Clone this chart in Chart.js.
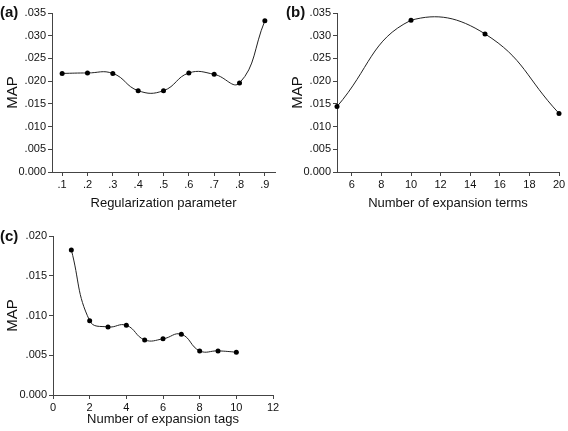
<!DOCTYPE html>
<html>
<head>
<meta charset="utf-8">
<script src="https://cdn.jsdelivr.net/npm/chart.js"></script>
<style>
  body { margin: 0; background: #fff; width: 568px; height: 431px; position: relative; overflow: hidden; font-family: "Liberation Sans", Arial, sans-serif; }
  canvas { position: absolute; }
  .tag { position: absolute; font-weight: bold; font-size: 15px; color: #111; line-height: 15px; }
</style>
</head>
<body>
<canvas id="chartA" width="285" height="215" style="left:0;top:0"></canvas>
<canvas id="chartB" width="283" height="215" style="left:285px;top:0"></canvas>
<canvas id="chartC" width="285" height="216" style="left:0;top:215px"></canvas>
<div class="tag" style="left:0;top:4px">(a)</div>
<div class="tag" style="left:286px;top:4px">(b)</div>
<div class="tag" style="left:0;top:228px">(c)</div>
<script>
// panel (a)
const regParam = [0.1, 0.2, 0.3, 0.4, 0.5, 0.6, 0.7, 0.8, 0.9];
const mapA = [0.0217, 0.0218, 0.0217, 0.0179, 0.0179, 0.0218, 0.0215, 0.0196, 0.0333];
const xTicksA = [0.1, 0.2, 0.3, 0.4, 0.5, 0.6, 0.7, 0.8, 0.9];
const yTicksA = [0, 0.005, 0.01, 0.015, 0.02, 0.025, 0.03, 0.035];

// panel (b)
const expTerms = [5, 10, 15, 20];
const mapB = [0.0144, 0.0334, 0.0304, 0.0129];
const xTicksB = [6, 8, 10, 12, 14, 16, 18, 20];
const yTicksB = [0, 0.005, 0.01, 0.015, 0.02, 0.025, 0.03, 0.035];

// panel (c)
const expTags = [1, 2, 3, 4, 5, 6, 7, 8, 9, 10];
const mapC = [0.01825, 0.00935, 0.00856, 0.00877, 0.00693, 0.00706, 0.00764, 0.00555, 0.00555, 0.00539];
const xTicksC = [0, 2, 4, 6, 8, 10, 12];
const yTicksC = [0, 0.005, 0.01, 0.015, 0.02];

const axisColor = "#444";
const textColor = "#111";
const fontFamily = '"Liberation Sans", Arial, sans-serif';

function fmtMap(v) {
  if (Math.abs(v) < 1e-9) return "0.000";
  return v.toFixed(3).replace(/^0/, "");
}

function makePanel(id, xs, ys, opt) {
  return new Chart(document.getElementById(id), {
    type: "line",
    data: {
      datasets: [{
        data: xs.map((x, i) => ({ x: x, y: ys[i] })),
        borderColor: "#222",
        borderWidth: 1,
        tension: 0.45,
        pointRadius: 2.5,
        pointBackgroundColor: "#000",
        pointBorderColor: "#000",
        pointBorderWidth: 0,
        fill: false,
        clip: false,
      }],
    },
    options: {
      responsive: false,
      animation: false,
      layout: { padding: { top: opt.padTop, right: opt.padRight, left: 0, bottom: 0 } },
      plugins: { legend: { display: false }, tooltip: { enabled: false } },
      scales: {
        x: {
          type: "linear",
          min: opt.xMin,
          max: opt.xMax,
          afterBuildTicks: (s) => { s.ticks = opt.xTicks.map((v) => ({ value: v })); },
          afterFit: (s) => { s.height = opt.xHeight; },
          grid: { drawOnChartArea: false, drawTicks: true, tickLength: 4, color: axisColor },
          border: { color: axisColor, width: 1 },
          ticks: {
            padding: 2,
            color: textColor,
            font: { family: fontFamily, size: 11 },
            maxRotation: 0,
            autoSkip: false,
            callback: opt.xFmt,
          },
          title: {
            display: true,
            text: opt.xTitle,
            color: textColor,
            font: { family: fontFamily, size: 13 },
            padding: { top: 0, bottom: 4 },
          },
        },
        y: {
          min: 0,
          max: opt.yMax,
          afterBuildTicks: (s) => { s.ticks = opt.yTicks.map((v) => ({ value: v })); },
          afterFit: (s) => { s.width = opt.yWidth; },
          grid: { drawOnChartArea: false, drawTicks: true, tickLength: 4, color: axisColor },
          border: { color: axisColor, width: 1 },
          ticks: {
            padding: 2,
            color: textColor,
            font: { family: fontFamily, size: 11 },
            autoSkip: false,
            callback: fmtMap,
          },
          title: {
            display: true,
            text: "MAP",
            color: textColor,
            font: { family: fontFamily, size: 15 },
            padding: { top: 4, bottom: 0 },
          },
        },
      },
    },
  });
}

makePanel("chartA", regParam, mapA, {
  padTop: 13, padRight: 10, xHeight: 43, yWidth: 52,
  xMin: 0.06, xMax: 0.94, xTicks: xTicksA, yTicks: yTicksA, yMax: 0.035,
  xFmt: (v) => v.toFixed(1).replace(/^0/, ""),
  xTitle: "Regularization parameter",
});

makePanel("chartB", expTerms, mapB, {
  padTop: 13, padRight: 9, xHeight: 43, yWidth: 52,
  xMin: 5, xMax: 20, xTicks: xTicksB, yTicks: yTicksB, yMax: 0.035,
  xFmt: (v) => String(v),
  xTitle: "Number of expansion terms",
});

makePanel("chartC", expTags, mapC, {
  padTop: 21, padRight: 12, xHeight: 36, yWidth: 53,
  xMin: 0, xMax: 12, xTicks: xTicksC, yTicks: yTicksC, yMax: 0.02,
  xFmt: (v) => String(v),
  xTitle: "Number of expansion tags",
});
</script>
</body>
</html>
